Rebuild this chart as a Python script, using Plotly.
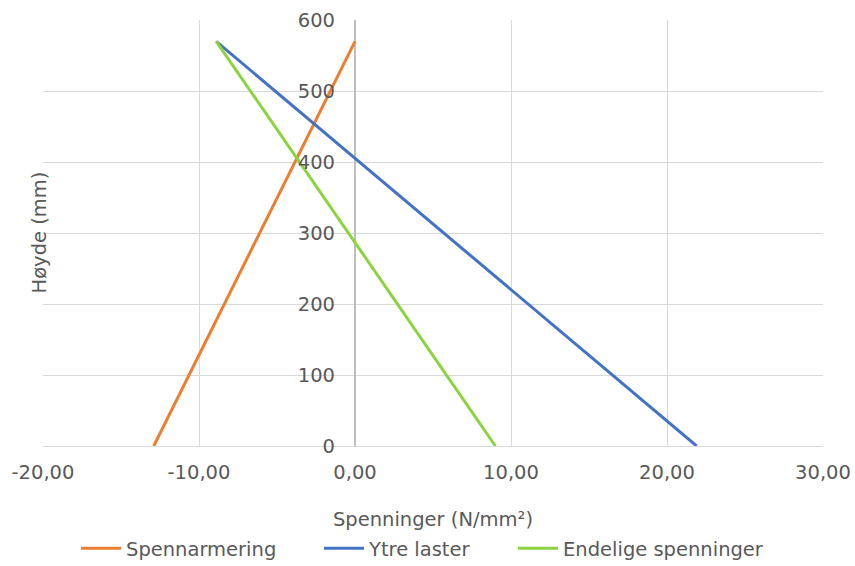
import plotly.graph_objects as go

hoyde = [0, 570]
spennarmering = [-12.9, 0.0]
ytre_laster = [21.9, -8.9]
endelige = [9.0, -8.9]

x_ticks = [-20, -10, 0, 10, 20, 30]
x_ticktext = ["-20,00", "-10,00", "0,00", "10,00", "20,00", "30,00"]
y_ticks = [0, 100, 200, 300, 400, 500, 600]

series = [
    ("Spennarmering", spennarmering, "#ED7D31", "legend"),
    ("Ytre laster", ytre_laster, "#4472C4", "legend2"),
    ("Endelige spenninger", endelige, "#8CD43F", "legend3"),
]

font_family = "DejaVu Sans, sans-serif"
grey = "#595959"
fs = 19.5

fig = go.Figure()
for name, xs, color, lg in series:
    fig.add_trace(go.Scatter(x=xs, y=hoyde, mode="lines", name=name, legend=lg,
                             line=dict(color=color, width=3)))

W, H = 855, 566
L, R, T, B = 43, 32, 20, 120
PW = W - L - R

def legend_at(px):
    return dict(orientation="h", x=(px - L - 8) / PW, xanchor="left",
                y=-0.195, yanchor="top", bgcolor="rgba(0,0,0,0)",
                font=dict(size=fs, color=grey), itemwidth=40)

fig.update_layout(
    width=W, height=H,
    margin=dict(l=L, r=R, t=T, b=B, autoexpand=False),
    paper_bgcolor="white", plot_bgcolor="white",
    font=dict(family=font_family, size=fs, color=grey),
    showlegend=True,
    legend=legend_at(84),
    legend2=legend_at(327),
    legend3=legend_at(521),
    xaxis=dict(range=[-20, 30], tickvals=x_ticks, ticktext=x_ticktext,
               showgrid=True, gridcolor="#D9D9D9", gridwidth=1,
               zeroline=True, zerolinecolor="#BFBFBF", zerolinewidth=1.5,
               showline=False, ticks="", ticklabelstandoff=12,
               title=dict(text="Spenninger (N/mm²)", font=dict(size=fs, color=grey), standoff=29),
               domain=[0, 1]),
    yaxis=dict(range=[0, 600], tickvals=y_ticks, anchor="free", position=0.4,
               showgrid=True, gridcolor="#D9D9D9", gridwidth=1,
               zeroline=True, zerolinecolor="#D9D9D9", zerolinewidth=1,
               showline=False, ticks="", ticklabelstandoff=20,
               tickfont=dict(size=fs, color=grey)),
    annotations=[dict(text="Høyde (mm)", xref="paper", yref="paper",
                      x=-(L - 25) / PW, y=0.5, textangle=-90,
                      showarrow=False, font=dict(size=fs, color=grey))],
)

fig.write_html("out.html")
